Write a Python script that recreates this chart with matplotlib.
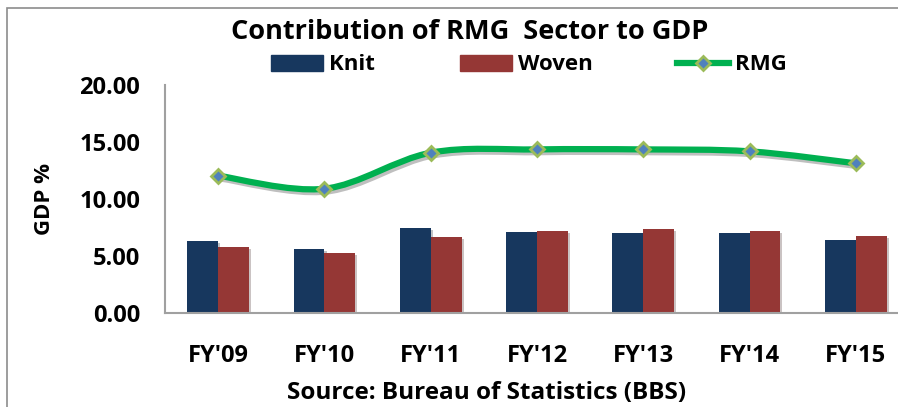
import numpy as np
import matplotlib
matplotlib.use("Agg")
import matplotlib.pyplot as plt
from matplotlib.path import Path
from matplotlib.patches import PathPatch, Rectangle
from matplotlib.lines import Line2D
import matplotlib.patheffects as pe

plt.rcParams['font.family'] = ['Open Sans', 'DejaVu Sans']
plt.rcParams['font.weight'] = 'bold'

# data (GDP %)
years = ["FY'09", "FY'10", "FY'11", "FY'12", "FY'13", "FY'14", "FY'15"]
knit = [6.30, 5.60, 7.46, 7.10, 7.02, 7.02, 6.40]
woven = [5.80, 5.26, 6.67, 7.19, 7.37, 7.19, 6.75]
rmg = [12.04, 10.90, 14.06, 14.35, 14.35, 14.18, 13.13]

knit_color = '#17375E'
woven_color = '#953735'
line_color = '#00B050'


# smoothed line like excel (catmull-rom turned into bezier segments)
def smooth_path(xs, ys):
    pts = np.column_stack([xs, ys]).astype(float)
    ext = np.vstack([pts[0], pts, pts[-1]])
    verts = [pts[0]]
    codes = [Path.MOVETO]
    for i in range(1, len(ext) - 2):
        p0, p1, p2, p3 = ext[i - 1], ext[i], ext[i + 1], ext[i + 2]
        c1 = p1 + (p2 - p0) / 6.0
        c2 = p2 - (p3 - p1) / 6.0
        verts += [c1, c2, p2]
        codes += [Path.CURVE4] * 3
    return Path(verts, codes)


fig = plt.figure(figsize=(8.98, 4.07), dpi=100)
ax = fig.add_axes([165 / 898, 94 / 407, 744 / 898, 228 / 407])

x = np.arange(len(years))
w = 0.29
shadow = [pe.SimplePatchShadow(offset=(1.5, -1.5), alpha=0.25), pe.Normal()]
b1 = ax.bar(x - w / 2, knit, w, color=knit_color, zorder=2)
b2 = ax.bar(x + w / 2, woven, w, color=woven_color, zorder=2)
for b in list(b1) + list(b2):
    b.set_path_effects(shadow)

curve = PathPatch(smooth_path(x, rmg), facecolor='none', edgecolor=line_color,
                  lw=4.5, capstyle='round', joinstyle='round', zorder=3,
                  transform=ax.transData)
curve.set_path_effects([pe.SimpleLineShadow(offset=(1.5, -2), alpha=0.25), pe.Normal()])
ax.add_patch(curve)
ax.plot(x, rmg, linestyle='none', marker='D', markersize=7, markerfacecolor='#4F81BD',
        markeredgecolor='#9BBB59', markeredgewidth=2, zorder=4)

ax.set_xlim(-0.5, 6.5)
ax.set_ylim(0, 20)
ax.set_yticks([0, 5, 10, 15, 20])
ax.set_yticklabels([f"{v:.2f}" for v in [0, 5, 10, 15, 20]], fontsize=17, fontweight='bold')
ax.set_xticks(x)
ax.set_xticklabels(years, fontsize=17, fontweight='bold')
ax.tick_params(axis='y', length=0, pad=18)
ax.tick_params(axis='x', length=0, pad=22)
for s in ['top', 'right']:
    ax.spines[s].set_visible(False)
for s in ['left', 'bottom']:
    ax.spines[s].set_color('#A0A0A0')
    ax.spines[s].set_linewidth(1.5)

fig.text(44 / 898, 1 - 199 / 407, 'GDP %', rotation=90, ha='center', va='center',
         fontsize=16, fontweight='bold')
fig.text(470 / 898, 1 - 32 / 407, 'Contribution of RMG  Sector to GDP', ha='center',
         va='center', fontsize=19.5, fontweight='bold')
fig.text(487 / 898, 1 - 393 / 407, 'Source: Bureau of Statistics (BBS)', ha='center',
         va='center', fontsize=17.5, fontweight='bold')

handles = [Rectangle((0, 0), 1, 1, color=knit_color),
           Rectangle((0, 0), 1, 1, color=woven_color),
           Line2D([], [], color=line_color, lw=4.5, marker='D', markersize=7,
                  markerfacecolor='#4F81BD', markeredgecolor='#9BBB59', markeredgewidth=2)]
fig.legend(handles, ['Knit', 'Woven', 'RMG'], loc='center', bbox_to_anchor=(529 / 898, 1 - 65 / 407),
           ncol=3, frameon=False, handlelength=2.35, handleheight=0.7,
           columnspacing=3.8, handletextpad=0.27, borderpad=0, prop={'weight': 'bold', 'size': 16})

# outer chart frame
fig.patches.append(Rectangle((7 / 898, -0.05), 1.1, 1 - 8 / 407 + 0.05, transform=fig.transFigure,
                             fill=False, edgecolor='#8C8C8C', lw=1.2))

fig.savefig('out.png', dpi=100)
